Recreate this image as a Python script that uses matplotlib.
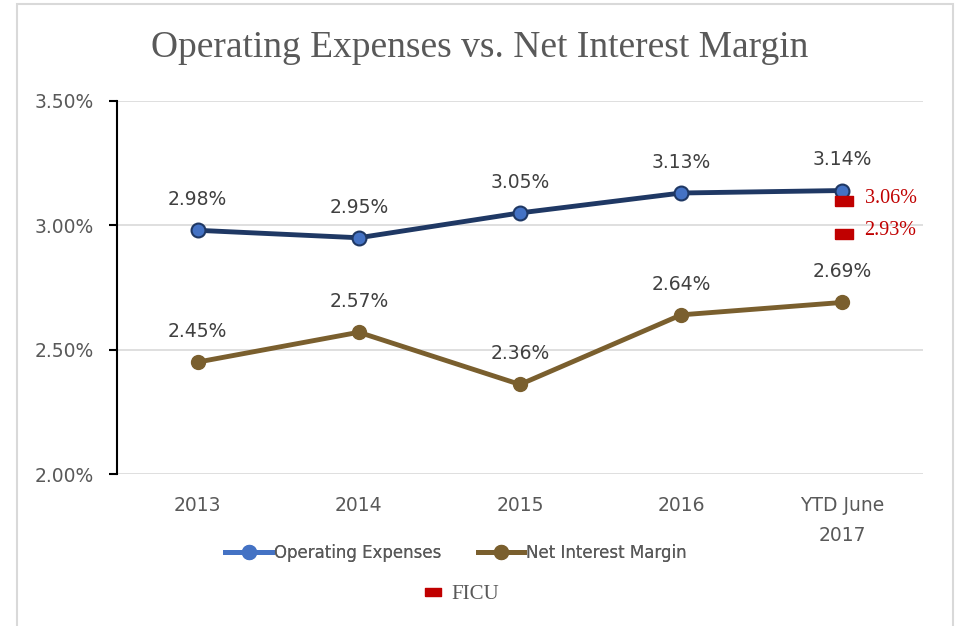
import matplotlib
matplotlib.use("Agg")
import matplotlib.pyplot as plt
from matplotlib.lines import Line2D
from matplotlib.patches import Rectangle
import matplotlib.transforms as mtransforms

categories = ["2013", "2014", "2015", "2016", "YTD June\n2017"]
operating_expenses = [2.98, 2.95, 3.05, 3.13, 3.14]
net_interest_margin = [2.45, 2.57, 2.36, 2.64, 2.69]
ficu_values = [3.06, 2.93]
yticks = [2.00, 2.50, 3.00, 3.50]

W, H = 959, 626
fig = plt.figure(figsize=(W / 100, H / 100), dpi=100)
ax = fig.add_axes([117 / W, (H - 474) / H, (923 - 117) / W, (474 - 101) / H])

x = list(range(len(categories)))
opex_line = "#1F3864"
opex_marker = "#4472C4"
nim_color = "#7A5F2E"
ficu_color = "#C00000"
label_gray = "#404040"
tick_gray = "#595959"
rect_marker = [(-1, -0.5), (1, -0.5), (1, 0.5), (-1, 0.5), (-1, -0.5)]

ax.plot(x, operating_expenses, color=opex_line, lw=3.5, marker="o", ms=10,
        mfc=opex_marker, mec=opex_line, mew=1.5, zorder=4, solid_capstyle="round")
ax.plot(x, net_interest_margin, color=nim_color, lw=3.5, marker="o", ms=10,
        mfc=nim_color, mec=nim_color, zorder=4, solid_capstyle="round")

for xi, v in zip(x, operating_expenses):
    ax.annotate(f"{v:.2f}%", (xi, v), xytext=(0, 22), textcoords="offset points",
                ha="center", va="center", fontsize=13.5, color=label_gray)
for xi, v in zip(x, net_interest_margin):
    ax.annotate(f"{v:.2f}%", (xi, v), xytext=(0, 22), textcoords="offset points",
                ha="center", va="center", fontsize=13.5, color=label_gray)

# FICU markers
shift = ax.transData + mtransforms.ScaledTranslation(2 / 100, 9 / 100, fig.dpi_scale_trans)
for v in ficu_values:
    ax.plot([x[-1]], [v], marker=rect_marker, linestyle="none", ms=13, color=ficu_color,
            mec=ficu_color, transform=shift, zorder=5, clip_on=False)
    ax.annotate(f"{v:.2f}%", (x[-1], v), xytext=(16, 8.5), textcoords="offset points",
                ha="left", va="center", fontsize=14.5, color=ficu_color,
                family="Liberation Serif", annotation_clip=False)

ax.set_xlim(-0.5, len(categories) - 0.5)
ax.set_ylim(yticks[0], yticks[-1])
ax.set_yticks(yticks)
ax.set_yticklabels([f"{t:.2f}%" for t in yticks])
ax.set_xticks(x)
ax.set_xticklabels(categories, linespacing=1.7)
ax.grid(axis="y", color="#D9D9D9", lw=1.2)
ax.set_axisbelow(True)
for s in ["top", "right", "bottom"]:
    ax.spines[s].set_visible(False)
ax.spines["left"].set_color("black")
ax.spines["left"].set_linewidth(1.5)
ax.tick_params(axis="y", length=6, width=1.5, color="black", labelsize=13.5,
               labelcolor=tick_gray, pad=11)
ax.tick_params(axis="x", length=0, labelsize=13.5, labelcolor=tick_gray, pad=16)

fig.text(480 / W, 1 - 48 / H, "Operating Expenses vs. Net Interest Margin",
         ha="center", va="center", fontsize=27, color=tick_gray,
         family="Liberation Serif")

# Legend
h1 = Line2D([], [], color=opex_marker, lw=3.5, marker="o", ms=10, mfc=opex_marker, mec=opex_marker)
h2 = Line2D([], [], color=nim_color, lw=3.5, marker="o", ms=10, mfc=nim_color, mec=nim_color)
leg1 = fig.legend([h1, h2], ["Operating Expenses", "Net Interest Margin"], ncol=2,
                  loc="center", bbox_to_anchor=(456 / W, 1 - 553 / H), frameon=False,
                  fontsize=12, labelcolor=tick_gray, handlelength=2.8,
                  handletextpad=0.1, columnspacing=2.2)
h3 = Line2D([], [], color=ficu_color, marker=rect_marker, ms=12, linestyle="none")
leg2 = fig.legend([h3], ["FICU"], loc="center", bbox_to_anchor=(461 / W, 1 - 594 / H),
                  frameon=False, prop={"family": "Liberation Serif", "size": 15},
                  labelcolor=tick_gray, handlelength=1.0, handletextpad=0.4)
fig.add_artist(leg1)

# Outer border
fig.add_artist(Rectangle((17 / W, -0.05), (953 - 17) / W, 1 - 4 / H + 0.05,
                         transform=fig.transFigure, fill=False, ec="#D9D9D9", lw=1.5))

fig.savefig("out.png", dpi=100)
